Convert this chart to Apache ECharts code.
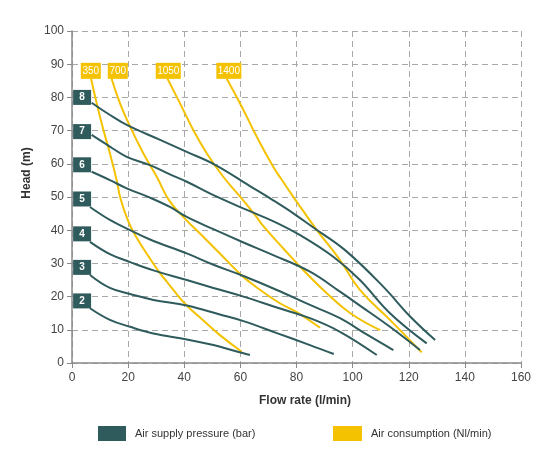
<!DOCTYPE html>
<html>
<head>
<meta charset="utf-8">
<script src="https://cdn.jsdelivr.net/npm/echarts@6/dist/echarts.min.js"></script>
<style>
html,body{margin:0;padding:0;background:#fff;}
#chart{width:549px;height:449px;}
</style>
</head>
<body>
<div id="chart"></div>
<script>
// ---- data ----
const xTickValues = [0, 20, 40, 60, 80, 100, 120, 140, 160];
const yTickValues = [0, 10, 20, 30, 40, 50, 60, 70, 80, 90, 100];

const pressureNames = ['2', '3', '4', '5', '6', '7', '8'];
const pressure2 = [[6.4,16.5],[13.5,13.0],[20.7,10.9],[29.0,8.9],[40.9,7.1],[50.4,5.4],[56.5,4.0],[63.4,2.4]];
const pressure3 = [[6.4,26.5],[13.5,22.6],[20.7,20.8],[29.0,19.0],[40.9,17.3],[52.7,14.6],[61.1,12.6],[73.0,9.0],[84.8,5.4],[93.3,2.7]];
const pressure4 = [[6.4,36.5],[13.5,32.8],[20.7,30.4],[29.0,27.9],[40.9,25.0],[50.4,22.6],[61.1,20.0],[73.0,16.7],[84.8,13.5],[95.5,9.4],[108.6,2.4]];
const pressure5 = [[6.4,47.0],[13.5,43.1],[20.7,40.0],[27.8,37.2],[40.9,33.0],[50.4,29.6],[61.1,26.2],[73.0,22.0],[84.8,17.5],[95.5,13.5],[105.0,8.6],[114.5,3.9]];
const pressure6 = [[7.0,57.6],[13.5,55.1],[19.5,52.6],[27.8,49.8],[34.9,47.0],[40.9,44.0],[50.4,40.3],[61.1,36.3],[71.7,32.5],[84.8,27.5],[95.5,21.5],[102.6,17.3],[113.3,10.9],[124.0,3.9]];
const pressure7 = [[7.0,68.7],[13.5,65.2],[19.5,62.1],[27.8,59.6],[34.9,56.8],[40.9,54.6],[51.6,50.1],[62.3,46.1],[72.0,42.6],[81.3,38.5],[93.1,32.0],[102.6,25.0],[113.3,15.0],[126.4,5.9]];
const pressure8 = [[7.0,78.4],[13.0,75.0],[19.5,71.7],[31.4,67.2],[40.9,63.6],[51.0,59.7],[63.4,53.3],[71.7,49.0],[79.0,45.0],[86.0,40.8],[97.3,34.0],[110.9,23.0],[120.5,14.0],[129.4,6.9]];
const pressureSeries = [pressure2, pressure3, pressure4, pressure5, pressure6, pressure7, pressure8];
const pressureLabelX = 3.6;
const pressureLabelY = [18.7, 28.8, 38.9, 49.4, 59.7, 69.7, 80.0];

const consumptionNames = ['350', '700', '1050', '1400'];
const consumption350 = [[6.8,85.7],[8.8,78.2],[11.2,70.2],[13.5,63.2],[15.9,55.1],[17.3,49.5],[20.1,42.6],[23.0,37.8],[27.5,31.8],[31.4,27.0],[33.7,24.6],[36.1,22.0],[40.9,17.3],[46.8,12.8],[52.7,8.4],[60.5,3.4]];
const consumption700 = [[14.1,85.7],[17.1,78.2],[20.7,71.2],[25.4,63.2],[30.2,56.1],[34.6,49.0],[40.3,43.4],[45.6,39.0],[52.7,33.0],[59.9,26.8],[63.4,24.3],[68.2,21.3],[74.1,18.0],[80.1,15.3],[88.4,10.6]];
const consumption1050 = [[34.0,85.7],[38.5,78.2],[43.2,70.2],[48.0,63.2],[53.9,56.1],[59.9,50.1],[65.2,44.6],[68.2,41.2],[75.3,34.5],[82.4,28.0],[90.8,21.0],[99.2,15.0],[109.8,9.9]];
const consumption1400 = [[55.1,85.7],[60.5,77.2],[65.8,68.2],[71.7,59.1],[74.8,55.1],[78.8,50.1],[81.3,47.1],[87.2,40.1],[95.5,31.0],[102.6,22.0],[113.3,13.0],[124.6,3.2]];
const consumptionSeries = [consumption350, consumption700, consumption1050, consumption1400];
const consumptionLabelX = [6.7, 16.3, 34.3, 55.9];
const consumptionLabelY = 88;

const legendPressure = 'Air supply pressure (bar)';
const legendConsumption = 'Air consumption (Nl/min)';

// ---- styles ----
const GRAY = '#2f5b5d';
const YELLOW = '#f4c200';
const FONT = '"Liberation Sans", Arial, sans-serif';

const series = [];
pressureSeries.forEach((d) => {
  series.push({
    name: legendPressure, type: 'line', data: d, smooth: 0.4, symbol: 'none',
    lineStyle: { color: GRAY, width: 2 }, itemStyle: { color: GRAY }, z: 3
  });
});
consumptionSeries.forEach((d) => {
  series.push({
    name: legendConsumption, type: 'line', data: d, smooth: 0.45, symbol: 'none',
    lineStyle: { color: YELLOW, width: 2 }, itemStyle: { color: YELLOW }, z: 2
  });
});
series.push({
  name: 'pressureLabels', type: 'scatter', symbol: 'rect', symbolSize: [18, 15],
  itemStyle: { color: GRAY, opacity: 1 }, z: 5, silent: true,
  data: pressureNames.map((n, i) => ({ name: n, value: [pressureLabelX, pressureLabelY[i]] })),
  label: { show: true, position: 'inside', formatter: (p) => p.name, color: '#fff', fontSize: 10, fontWeight: 'bold', fontFamily: FONT }
});
series.push({
  name: 'consumptionLabels', type: 'scatter', symbol: 'rect',
  symbolSize: (v, p) => [p.name.length > 3 ? 25 : 20, 16],
  itemStyle: { color: YELLOW, opacity: 1 }, z: 5, silent: true,
  data: consumptionNames.map((n, i) => ({ name: n, value: [consumptionLabelX[i], consumptionLabelY] })),
  label: { show: true, position: 'inside', formatter: (p) => p.name, color: '#fff', fontSize: 10, fontFamily: FONT }
});

const chart = echarts.init(document.getElementById('chart'), null, { renderer: 'canvas' });
chart.setOption({
  animation: false,
  backgroundColor: '#fff',
  textStyle: { fontFamily: FONT },
  grid: { left: 72, right: 28, top: 31, bottom: 86 },
  legend: [
    { data: [legendPressure], left: 98, top: 426, padding: 0, icon: 'rect', itemWidth: 28, itemHeight: 15,
      textStyle: { fontSize: 11, color: '#333', fontFamily: FONT, padding: [0, 0, 0, 4] }, selectedMode: false },
    { data: [legendConsumption], left: 333, top: 426, padding: 0, icon: 'rect', itemWidth: 29, itemHeight: 15,
      textStyle: { fontSize: 11, color: '#333', fontFamily: FONT, padding: [0, 0, 0, 4] }, selectedMode: false }
  ],
  xAxis: {
    type: 'value', min: xTickValues[0], max: xTickValues[xTickValues.length - 1], interval: 20,
    name: 'Flow rate (l/min)', nameLocation: 'middle', nameGap: 32,
    nameTextStyle: { fontSize: 12, fontWeight: 'bold', color: '#333', fontFamily: FONT, padding: [0, 0, 0, 17] },
    axisLine: { show: true, lineStyle: { color: '#8a8a8a', width: 1.5 } },
    axisTick: { show: true, length: 5, lineStyle: { color: '#8a8a8a' } },
    axisLabel: { fontSize: 12, color: '#444', margin: 9, fontFamily: FONT },
    splitLine: { show: true, lineStyle: { color: '#a8a8a8', type: [6, 4], width: 1 } }
  },
  yAxis: {
    type: 'value', min: yTickValues[0], max: yTickValues[yTickValues.length - 1], interval: 10,
    name: 'Head (m)', nameLocation: 'middle', nameGap: 38,
    nameTextStyle: { fontSize: 12, fontWeight: 'bold', color: '#333', fontFamily: FONT, padding: [0, 0, 0, 48] },
    axisLine: { show: true, lineStyle: { color: '#8a8a8a', width: 1.5 } },
    axisTick: { show: true, length: 5, lineStyle: { color: '#8a8a8a' } },
    axisLabel: { fontSize: 12, color: '#444', margin: 8, fontFamily: FONT },
    splitLine: { show: true, lineStyle: { color: '#a8a8a8', type: [6, 4], width: 1 } }
  },
  series: series
});
</script>
</body>
</html>
